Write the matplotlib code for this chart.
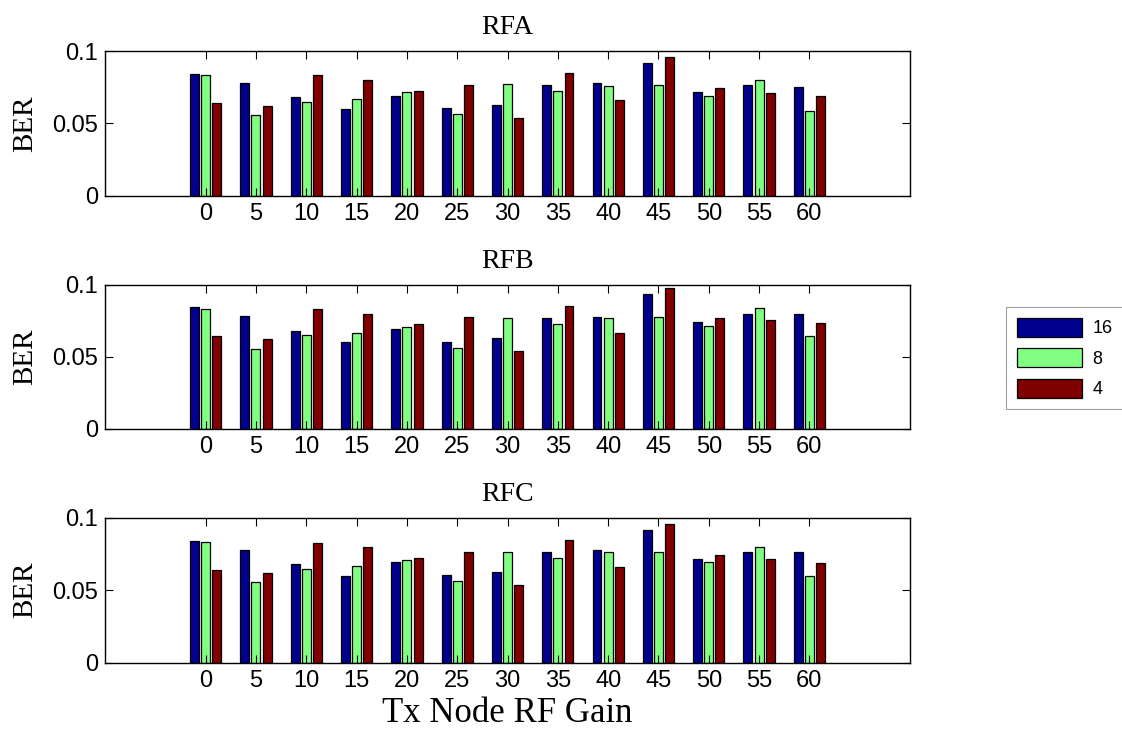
import numpy as np
import matplotlib
matplotlib.use("Agg")
import matplotlib.pyplot as plt

gains = [0, 5, 10, 15, 20, 25, 30, 35, 40, 45, 50, 55, 60]
series_labels = ["16", "8", "4"]
panel_titles = ["RFA", "RFB", "RFC"]

# BER values per panel, one list per series (16, 8, 4)
rfa_16 = [0.0843, 0.0781, 0.0680, 0.0599, 0.0691, 0.0606, 0.0629, 0.0763, 0.0776, 0.0919, 0.0717, 0.0765, 0.0753]
rfa_8 = [0.0834, 0.0560, 0.0647, 0.0666, 0.0714, 0.0567, 0.0770, 0.0726, 0.0760, 0.0763, 0.0689, 0.0800, 0.0588]
rfa_4 = [0.0643, 0.0620, 0.0832, 0.0800, 0.0726, 0.0767, 0.0539, 0.0850, 0.0661, 0.0961, 0.0744, 0.0712, 0.0687]

rfb_16 = [0.0845, 0.0783, 0.0680, 0.0601, 0.0696, 0.0603, 0.0631, 0.0766, 0.0775, 0.0937, 0.0738, 0.0800, 0.0796]
rfb_8 = [0.0835, 0.0557, 0.0650, 0.0666, 0.0710, 0.0564, 0.0768, 0.0726, 0.0766, 0.0775, 0.0712, 0.0838, 0.0645]
rfb_4 = [0.0645, 0.0622, 0.0835, 0.0798, 0.0724, 0.0773, 0.0541, 0.0856, 0.0664, 0.0981, 0.0770, 0.0756, 0.0733]

rfc_16 = [0.0841, 0.0779, 0.0678, 0.0598, 0.0692, 0.0605, 0.0628, 0.0761, 0.0777, 0.0917, 0.0717, 0.0763, 0.0761]
rfc_8 = [0.0830, 0.0559, 0.0646, 0.0664, 0.0708, 0.0563, 0.0763, 0.0722, 0.0761, 0.0763, 0.0692, 0.0798, 0.0595]
rfc_4 = [0.0641, 0.0621, 0.0828, 0.0795, 0.0720, 0.0766, 0.0536, 0.0848, 0.0662, 0.0959, 0.0743, 0.0713, 0.0690]

panels = [
    [rfa_16, rfa_8, rfa_4],
    [rfb_16, rfb_8, rfb_4],
    [rfc_16, rfc_8, rfc_4],
]

colors = ["#00008F", "#80FF80", "#800000"]
serif = ["Liberation Serif", "DejaVu Serif"]
sans = ["Liberation Sans", "DejaVu Sans"]

fig = plt.figure(figsize=(11.22, 7.34), dpi=100)

# axes rectangles [left, bottom, width, height] in figure fraction
rects = [
    [0.0936, 0.733, 0.7175, 0.1975],
    [0.0936, 0.416, 0.7175, 0.196],
    [0.0936, 0.0971, 0.7175, 0.1975],
]

x = np.array(gains, dtype=float)
bar_w = 0.89
offsets = [-1.11, 0.0, 1.11]

handles = []
for i, (rect, data, title) in enumerate(zip(rects, panels, panel_titles)):
    ax = fig.add_axes(rect)
    for j, vals in enumerate(data):
        b = ax.bar(x + offsets[j], vals, width=bar_w, color=colors[j],
                   edgecolor="black", linewidth=0.9, label=series_labels[j])
        if i == 0:
            handles.append(b)
    ax.set_xlim(-10, 70)
    ax.set_ylim(0, 0.1)
    ax.set_xticks(gains)
    ax.set_xticklabels([str(g) for g in gains], family=sans, fontsize=17)
    ax.set_yticks([0, 0.05, 0.1])
    ax.set_yticklabels(["0", "0.05", "0.1"], family=sans, fontsize=17)
    ax.tick_params(direction="in", top=True, right=True, length=6, width=0.8, pad=5)
    for sp in ax.spines.values():
        sp.set_linewidth(1.0)
    ax.set_title(title, family=serif, fontsize=20, pad=12)
    ax.set_ylabel("BER", family=serif, fontsize=21, labelpad=10)
    if i == 2:
        ax.set_xlabel("Tx Node RF Gain", family=serif, fontsize=25, labelpad=4)

leg = fig.legend(handles, series_labels, loc="upper left",
                 bbox_to_anchor=(1006 / 1122, 1 - 307 / 734), prop={"family": sans, "size": 13},
                 frameon=True, fancybox=False, edgecolor="#888888",
                 handlelength=3.6, handleheight=1.25, borderpad=0.6, labelspacing=0.6,
                 handletextpad=0.6, borderaxespad=0)
leg.get_frame().set_linewidth(0.8)

fig.savefig("out.png", dpi=100)
